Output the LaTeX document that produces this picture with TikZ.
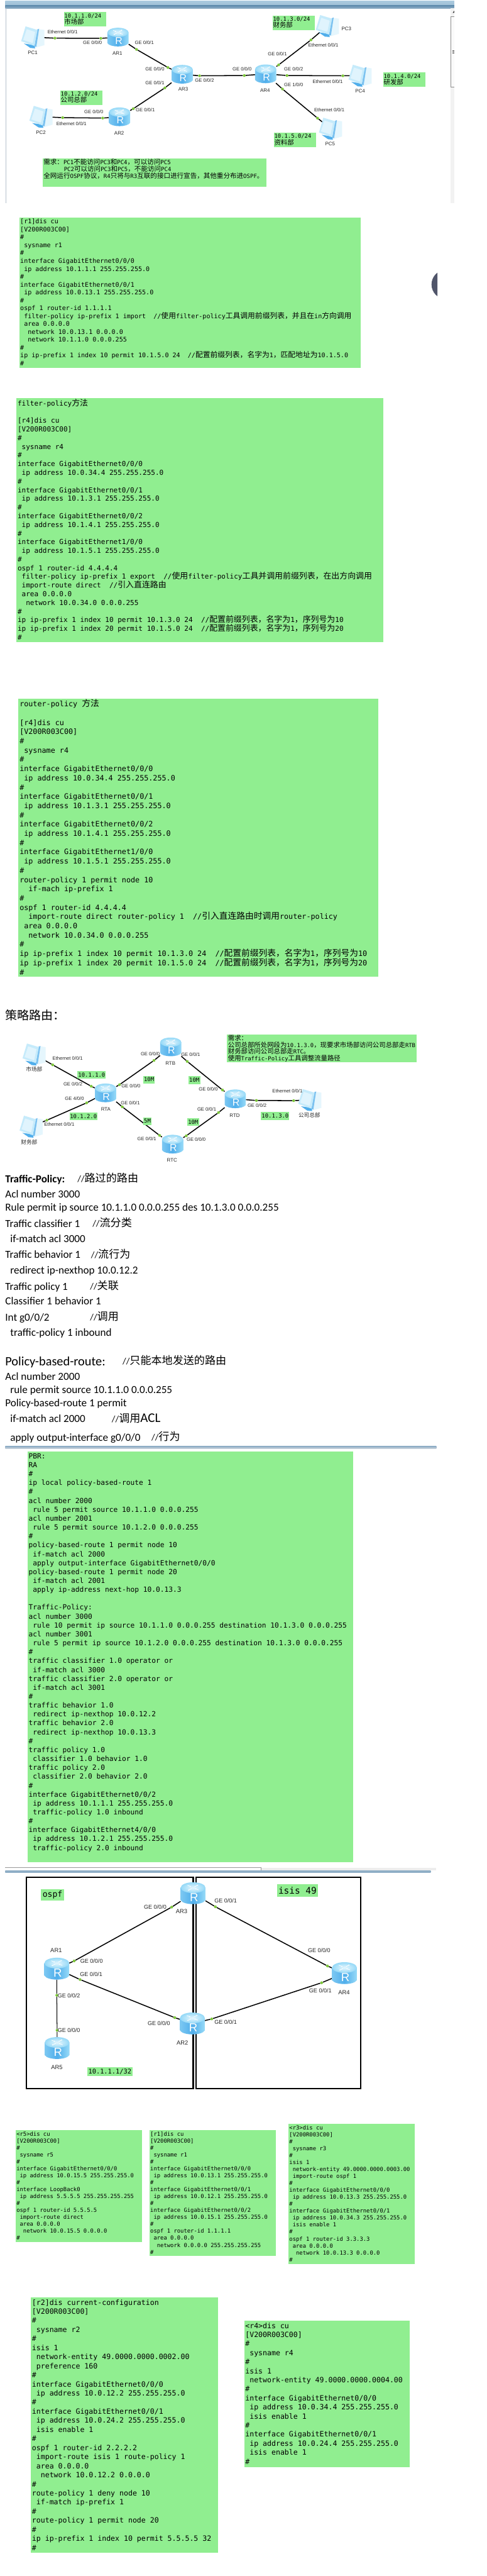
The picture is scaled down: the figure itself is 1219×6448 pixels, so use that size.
\documentclass[tikz,border=0pt]{standalone}
\usepackage{fontspec}
\setmainfont{Carlito}
\setmonofont{DejaVu Sans Mono}
\newfontfamily\cjk[Scale=1.17]{Noto Sans CJK SC}
\newfontfamily\arialish{Liberation Sans}
\usetikzlibrary{arrows.meta,backgrounds}
\definecolor{cfggreen}{HTML}{90EE90}
\definecolor{portgreen}{HTML}{7CC63A}
\definecolor{rleft}{HTML}{7CC8F2}
\definecolor{rmid}{HTML}{50AEEB}
\definecolor{rright}{HTML}{98DBF8}
\definecolor{barlight}{HTML}{A9C9DE}
\definecolor{barlightb}{HTML}{9FC0D6}
\definecolor{bardark}{HTML}{5C8AAB}
\definecolor{barmid}{HTML}{8FAEC6}
\definecolor{barpale}{HTML}{C9D3DC}
\definecolor{edgegrey}{HTML}{B4C0CC}
\definecolor{knob}{HTML}{50556A}
\newcounter{labc}
\newcounter{txtc}
\newcommand{\zh}[1]{{\cjk #1}}
\newcommand{\gbox}[4]{\fill[cfggreen] (#1,#2) rectangle (#3,#4);}
\newcommand{\cfgtext}[6]{\pgfmathsetmacro\ytop{#3+0.36*#4-0.7*#5}%
  \node[cfgtxt,font={\fontsize{#4pt}{#5pt}\ttfamily\selectfont\lineskiplimit-100pt\relax}] (#1) at (#2,\ytop) {\strut #6};}
\newcommand{\glab}[7][14]{\gbox{#3}{#4}{#5}{#6}\pgfmathsetmacro\xmid{(#3+#5)/2}\pgfmathsetmacro\ymid{(#4+#6)/2}%
  \node[inner sep=0pt,font=\fontsize{#1pt}{#1pt}\ttfamily\selectfont] (#2) at (\xmid,\ymid) {#7};}
\newcommand{\plab}[4][12]{\stepcounter{labc}\node[plabel,font=\fontsize{#1pt}{#1pt}\arialish\selectfont] (lab\arabic{labc}) at (#2,#3) {#4};}
\newcommand{\tline}[4][27]{\stepcounter{txtc}\pgfmathsetmacro\ybase{#3+0.3*#1}%
  \node[anchor=base west,inner sep=0pt,font=\fontsize{#1pt}{#1pt}\selectfont] (tx\arabic{txtc}) at (#2,\ybase) {#4};}
\newcommand{\wire}[5][]{\begin{pgfonlayer}{background}\draw[wireline,#1] (#2) -- (#3) -- (#4) -- (#5);\end{pgfonlayer}}
\tikzset{
  cfgtxt/.style={anchor=north west,inner sep=0pt,align=left},
  plabel/.style={inner sep=0pt,text=black!85},
  wireline/.style={line width=2.4pt,black},
  portdot/.style={circle,fill=portgreen,inner sep=0pt,minimum size=7pt},
  devR/.style={inner sep=0pt,minimum width=53pt,minimum height=46pt},
  devRb/.style={inner sep=0pt,minimum width=62pt,minimum height=55pt},
  devP/.style={inner sep=0pt,minimum width=38pt,minimum height=38pt},
  router/.pic={
    \path[left color=rleft,right color=rright,middle color=rmid]
      (-26.5,-12) -- (-26.5,15) .. controls (-20,26) and (20,26) .. (26.5,15) -- (26.5,-12) -- cycle;
    \shade[inner color=white!75!rright,outer color=rright!90!rleft] (0,-12) ellipse [x radius=26.5,y radius=11.5];
    \draw[white,line width=1.2pt,-{Stealth[length=3pt,width=3.5pt]}] (3,-14) -- (11,-18);
    \draw[white,line width=1.2pt,-{Stealth[length=3pt,width=3.5pt]}] (-3,-10) -- (-11,-6);
    \draw[white,line width=1.2pt,-{Stealth[length=3pt,width=3.5pt]}] (-12,-17) -- (-4,-14);
    \draw[white,line width=1.2pt,-{Stealth[length=3pt,width=3.5pt]}] (12,-7) -- (4,-10);
    \node[transform shape,text=white,inner sep=0pt,font=\fontsize{25pt}{25pt}\arialish\selectfont] at (2,9) {R};
  },
  pccomp/.pic={
    \fill[white!75!rright] (15,-20) -- (29,-18) -- (29,20) -- (8,26) -- cycle;
    \fill[rmid!75!white] (11,-19) -- (16,-21) -- (9,24) -- (4,24) -- cycle;
    \fill[rmid] (-22,16) -- (4,20) -- (6,28) -- (-6,27) -- cycle;
    \fill[white!45!rright] (-29,10) -- (-18,-27) -- (12,-18) -- (4,22) -- cycle;
    \fill[white!70!rright] (-24,7) -- (-15,-20) -- (6,-13) -- (0,15) -- cycle;
  }
}
\begin{document}
\begin{tikzpicture}[x=1pt,y=-1pt]
\useasboundingbox (0,0) rectangle (1219,6448);
\begin{pgfonlayer}{background}
  \fill[white] (0,0) rectangle (1219,6448);
\end{pgfonlayer}

%% ---------- window frame at the top ----------
\shade[top color=barlight,bottom color=barlightb] (13,3) rectangle (1138,13);
\shade[top color=bardark,bottom color=barmid] (13,13) rectangle (1138,21);
\fill[black!5] (1128,21) rectangle (1138,508);
\fill[black!2] (1129,42) rectangle (1138,218);
\draw[black!45,line width=0.8pt] (1138,42) -- (1129,42) -- (1129,218) -- (1138,218);
\fill[black!70] (1133,126) rectangle (1138,127.5);
\fill[black!70] (1133,129.5) rectangle (1138,131);
\fill[black!70] (1133,133) rectangle (1138,134.5);
\fill[black!80] (1134,32) -- (1138,27) -- (1138,32) -- cycle;
\draw[edgegrey,line width=3pt] (15,21) -- (15,508);

%% ---------- first topology ----------
\node[devP] (PC1) at (82,93) {};
\node[devR] (AR1) at (295.5,93) {};
\node[devR] (AR3) at (456.5,186) {};
\node[devR] (AR4) at (665.6,185) {};
\node[devR] (AR2) at (299.4,292.5) {};
\node[devP] (PC2) at (102.6,292) {};
\node[devP] (PC3) at (820,64.7) {};
\node[devP] (PC4) at (902,189) {};
\node[devP] (PC5) at (828,321.6) {};
\node[portdot] (a1) at (137.6,95.5) {};
\node[portdot] (a2) at (252.7,96) {};
\node[portdot] (a3) at (342,123.7) {};
\node[portdot] (a4) at (420.7,169) {};
\node[portdot] (a5) at (413,220) {};
\node[portdot] (a6) at (334,272) {};
\node[portdot] (a7) at (500,189.7) {};
\node[portdot] (a8) at (612,189) {};
\node[portdot] (a9) at (698,162.5) {};
\node[portdot] (a10) at (779,100) {};
\node[portdot] (a11) at (719,189) {};
\node[portdot] (a12) at (859,189.7) {};
\node[portdot] (a13) at (707.6,222.8) {};
\node[portdot] (a14) at (795.5,295.8) {};
\node[portdot] (a15) at (257.4,295.5) {};
\node[portdot] (a16) at (157,294.5) {};
\wire{PC1}{a1}{a2}{AR1}
\wire{AR1}{a3}{a4}{AR3}
\wire{AR3}{a5}{a6}{AR2}
\wire{AR3}{a7}{a8}{AR4}
\wire{AR4}{a9}{a10}{PC3}
\wire{AR4}{a11}{a12}{PC4}
\wire{AR4}{a13}{a14}{PC5}
\wire{AR2}{a15}{a16}{PC2}
\foreach \n in {AR1,AR2,AR3,AR4} {\pic at (\n) {router};}
\foreach \n in {PC1,PC2,PC3,PC4,PC5} {\pic at (\n) {pccomp};}
\plab[12.5]{82}{132.6}{PC1}
\plab[12.5]{294}{134}{AR1}
\plab[12.5]{459}{223}{AR3}
\plab[12.5]{664}{226.5}{AR4}
\plab[12.5]{298.6}{334}{AR2}
\plab[12.5]{102.6}{331.6}{PC2}
\plab[12.5]{868}{72}{PC3}
\plab[12.5]{902}{227.5}{PC4}
\plab[12.5]{827}{360}{PC5}
\plab{157}{79.6}{Ethernet 0/0/1}
\plab{231.7}{107}{GE 0/0/0}
\plab{361.6}{107}{GE 0/0/1}
\plab{388}{173.4}{GE 0/0/0}
\plab{388}{208}{GE 0/0/1}
\plab{512.4}{201.6}{GE 0/0/2}
\plab{606.5}{172.4}{GE 0/0/0}
\plab{735.6}{172.4}{GE 0/0/2}
\plab{735.6}{212.6}{GE 1/0/0}
\plab{695}{134.6}{GE 0/0/1}
\plab{810}{113}{Ethernet 0/0/1}
\plab{821}{205}{Ethernet 0/0/1}
\plab{825}{274.6}{Ethernet 0/0/1}
\plab{364}{275.6}{GE 0/0/1}
\plab{235}{280}{GE 0/0/0}
\plab{179}{309}{Ethernet 0/0/1}
\gbox{160}{30}{266}{66}
\cfgtext{g1}{161}{39}{14}{16}{10.1.1.0/24\\\zh{市场部}}
\gbox{683}{39}{788.5}{75.6}
\cfgtext{g2}{684}{47.8}{14}{16}{10.1.3.0/24\\\zh{财务部}}
\gbox{960}{181.7}{1066}{218}
\cfgtext{g3}{961}{190.7}{14}{16}{10.1.4.0/24\\\zh{研发部}}
\gbox{151}{226.5}{256.6}{262.6}
\cfgtext{g4}{152}{234.8}{14}{16}{10.1.2.0/24\\\zh{公司总部}}
\gbox{686}{332.6}{791.6}{369}
\cfgtext{g5}{687}{341}{14}{16}{10.1.5.0/24\\\zh{资料部}}
\gbox{107}{396.6}{668}{468}
\cfgtext{g6}{109}{404.5}{14.2}{17}{\zh{需求：}PC1\zh{不能访问}PC3\zh{和}PC4\zh{，可以访问}PC5\\
\hspace*{51pt}PC2\zh{可以访问}PC3\zh{和}PC5\zh{，不能访问}PC4\\
\zh{全网运行}OSPF\zh{协议，}R4\zh{只将与}R3\zh{互联的接口进行宣告，其他重分布进}OSPF\zh{。}}

%% ---------- dark round button, cut off ----------
\begin{scope}
  \clip (1070,660) rectangle (1096,770);
  \fill[knob] (1118,712) circle [radius=37];
\end{scope}

%% ---------- r1 config ----------
\gbox{49}{544}{903.6}{921}
\cfgtext{cfgA}{50.5}{554.4}{15.85}{19.7}{[r1]dis cu\\
{[}V200R003C00]\\
\#\\
\ sysname r1\\
\#\\
interface GigabitEthernet0/0/0\\
\ ip address 10.1.1.1 255.255.255.0\\
\#\\
interface GigabitEthernet0/0/1\\
\ ip address 10.0.13.1 255.255.255.0\\
\#\\
ospf 1 router-id 1.1.1.1\\
\ filter-policy ip-prefix 1 import\ \ //\zh{使用}filter-policy\zh{工具调用前缀列表，并且在}in\zh{方向调用}\\
\ area 0.0.0.0\\
\ \ network 10.0.13.1 0.0.0.0\\
\ \ network 10.1.1.0 0.0.0.255\\
\#\\
ip ip-prefix 1 index 10 permit 10.1.5.0 24\ \ //\zh{配置前缀列表，名字为}1\zh{，匹配地址为}10.1.5.0\\
\#}

%% ---------- filter-policy ----------
\gbox{41}{996}{961}{1607}
\cfgtext{cfgB}{44}{1007}{17.35}{21.72}{filter-policy\zh{方法}\\
\strut\\
{[}r4]dis cu\\
{[}V200R003C00]\\
\#\\
\ sysname r4\\
\#\\
interface GigabitEthernet0/0/0\\
\ ip address 10.0.34.4 255.255.255.0\\
\#\\
interface GigabitEthernet0/0/1\\
\ ip address 10.1.3.1 255.255.255.0\\
\#\\
interface GigabitEthernet0/0/2\\
\ ip address 10.1.4.1 255.255.255.0\\
\#\\
interface GigabitEthernet1/0/0\\
\ ip address 10.1.5.1 255.255.255.0\\
\#\\
ospf 1 router-id 4.4.4.4\\
\ filter-policy ip-prefix 1 export\ \ //\zh{使用}filter-policy\zh{工具并调用前缀列表，在出方向调用}\\
\ import-route direct\ \ //\zh{引入直连路由}\\
\ area 0.0.0.0\\
\ \ network 10.0.34.0 0.0.0.255\\
\#\\
ip ip-prefix 1 index 10 permit 10.1.3.0 24\ \ //\zh{配置前缀列表，名字为}1\zh{，序列号为}10\\
ip ip-prefix 1 index 20 permit 10.1.5.0 24\ \ //\zh{配置前缀列表，名字为}1\zh{，序列号为}20\\
\#}

%% ---------- router-policy ----------
\gbox{46}{1749}{948}{2445}
\cfgtext{cfgC}{49}{1760}{18.5}{23.14}{router-policy \zh{方法}\\
\strut\\
{[}r4]dis cu\\
{[}V200R003C00]\\
\#\\
\ sysname r4\\
\#\\
interface GigabitEthernet0/0/0\\
\ ip address 10.0.34.4 255.255.255.0\\
\#\\
interface GigabitEthernet0/0/1\\
\ ip address 10.1.3.1 255.255.255.0\\
\#\\
interface GigabitEthernet0/0/2\\
\ ip address 10.1.4.1 255.255.255.0\\
\#\\
interface GigabitEthernet1/0/0\\
\ ip address 10.1.5.1 255.255.255.0\\
\#\\
router-policy 1 permit node 10\\
\ \ if-mach ip-prefix 1\\
\#\\
ospf 1 router-id 4.4.4.4\\
\ \ import-route direct router-policy 1\ \ //\zh{引入直连路由时调用}router-policy\\
\ area 0.0.0.0\\
\ \ network 10.0.34.0 0.0.0.255\\
\#\\
ip ip-prefix 1 index 10 permit 10.1.3.0 24\ \ //\zh{配置前缀列表，名字为}1\zh{，序列号为}10\\
ip ip-prefix 1 index 20 permit 10.1.5.0 24\ \ //\zh{配置前缀列表，名字为}1\zh{，序列号为}20\\
\#}

%% ---------- heading ----------
\node[anchor=base west,inner sep=0pt,font=\fontsize{25.6pt}{30pt}\selectfont] (heading) at (13,2552) {\zh{策略路由：}};

%% ---------- second topology ----------
\node[devP] (PCm) at (85.5,2639) {};
\node[devP] (PCf) at (78,2819.6) {};
\node[devR] (RTA) at (264.4,2735.7) {};
\node[devR] (RTB) at (427.7,2620.6) {};
\node[devR] (RTC) at (432.4,2864) {};
\node[devR] (RTD) at (589.4,2750.6) {};
\node[devP] (PCh) at (776,2753) {};
\node[portdot] (b1) at (132,2665.4) {};
\node[portdot] (b2) at (228.6,2719) {};
\node[portdot] (b3) at (117.4,2804) {};
\node[portdot] (b4) at (217,2760.5) {};
\node[portdot] (b5) at (299.4,2715) {};
\node[portdot] (b6) at (385.7,2654.4) {};
\node[portdot] (b7) at (469,2656.8) {};
\node[portdot] (b8) at (557.5,2728.4) {};
\node[portdot] (b9) at (306.4,2770.5) {};
\node[portdot] (b10) at (399.7,2842) {};
\node[portdot] (b11) at (466.6,2843) {};
\node[portdot] (b12) at (547.4,2784.8) {};
\node[portdot] (b13) at (642.3,2754.6) {};
\node[portdot] (b14) at (735.6,2755) {};
\wire{PCm}{b1}{b2}{RTA}
\wire{PCf}{b3}{b4}{RTA}
\wire{RTA}{b5}{b6}{RTB}
\wire{RTB}{b7}{b8}{RTD}
\wire{RTA}{b9}{b10}{RTC}
\wire{RTC}{b11}{b12}{RTD}
\wire{RTD}{b13}{b14}{PCh}
\foreach \n in {RTA,RTB,RTC,RTD} {\pic at (\n) {router};}
\foreach \n in {PCm,PCf,PCh} {\pic at (\n) {pccomp};}
\plab[11.6]{85.5}{2677}{\zh{市场部}}
\plab[11.6]{73}{2859}{\zh{财务部}}
\plab[11.6]{775}{2791}{\zh{公司总部}}
\plab[12.5]{265}{2776}{RTA}
\plab[12.5]{427}{2661.4}{RTB}
\plab[12.5]{431}{2904.5}{RTC}
\plab[12.5]{588}{2792}{RTD}
\plab{169.5}{2649.5}{Ethernet 0/0/1}
\plab{182.7}{2713.5}{GE 0/0/2}
\plab{186.6}{2749}{GE 4/0/0}
\plab{148.5}{2815}{Ethernet 0/0/1}
\plab{376.4}{2637.5}{GE 0/0/0}
\plab{477.5}{2639}{GE 0/0/1}
\plab{328}{2718.8}{GE 0/0/0}
\plab{326.6}{2761}{GE 0/0/1}
\plab{521.8}{2726.7}{GE 0/0/0}
\plab{518}{2777}{GE 0/0/1}
\plab{367.8}{2849.8}{GE 0/0/1}
\plab{491.4}{2851.7}{GE 0/0/0}
\plab{720}{2730.7}{Ethernet 0/0/1}
\plab{644}{2766.5}{GE 0/0/2}
\glab{n1}{194.4}{2681.3}{265}{2700}{10.1.1.0}
\glab{n2}{174}{2784.8}{244}{2804}{10.1.2.0}
\glab{n3}{654}{2783.4}{724.7}{2803}{10.1.3.0}
\glab{n4}{358.5}{2693}{388}{2712}{10M}
\glab{n5}{472}{2694}{501.6}{2713.5}{10M}
\glab{n6}{358.5}{2797}{380}{2816}{5M}
\glab{n7}{469}{2799}{498.5}{2818}{10M}
\gbox{569}{2589.5}{1043}{2658.8}
\cfgtext{g7}{571}{2597}{14}{17.1}{\zh{需求：}\\
\zh{公司总部所处网段为}10.1.3.0\zh{，现要求市场部访问公司总部走}RTB\\
\zh{财务部访问公司总部走}RTC\zh{。}\\
\zh{使用}Traffic-Policy\zh{工具调整流量路径}}

%% ---------- traffic-policy notes ----------
\tline{13}{2952.5}{\bfseries Traffic-Policy:}
\tline[23]{194}{2952.5}{//\zh{路过的路由}}
\tline{13}{2990.7}{Acl number 3000}
\tline{13}{3022.8}{Rule permit ip source 10.1.1.0 0.0.0.255 des 10.1.3.0 0.0.0.255}
\tline{13}{3063.9}{Traffic classifier 1}
\tline[23]{231.7}{3063.9}{//\zh{流分类}}
\tline{25.7}{3101.4}{if-match acl 3000}
\tline{13}{3141.7}{Traffic behavior 1}
\tline[23]{228}{3141.7}{//\zh{流行为}}
\tline{25.7}{3180}{redirect ip-nexthop 10.0.12.2}
\tline{13}{3221}{Traffic policy 1}
\tline[23]{225.5}{3221}{//\zh{关联}}
\tline{13}{3257.7}{Classifier 1 behavior 1}
\tline{13}{3298.8}{Int g0/0/2}
\tline[23]{225.5}{3298.8}{//\zh{调用}}
\tline{25.7}{3336}{traffic-policy 1 inbound}
\tline[32]{13}{3408.4}{Policy-based-route:}
\tline[23]{307}{3408.4}{//\zh{只能本地发送的路由}}
\tline{13}{3447}{Acl number 2000}
\tline{25.7}{3479}{rule permit source 10.1.1.0 0.0.0.255}
\tline{13}{3513}{Policy-based-route 1 permit}
\tline{25.7}{3552.5}{if-match acl 2000}
\tline[23]{280}{3552.5}{//\zh{调用}\fontsize{33pt}{33pt}\selectfont ACL}
\tline{25.7}{3599}{apply output-interface g0/0/0}
\tline[23]{379.5}{3599}{//\zh{行为}}
\shade[top color=barmid,bottom color=barpale] (13,3620) rectangle (1093,3625.7);

%% ---------- PBR config ----------
\gbox{69}{3632.8}{884}{4661}
\cfgtext{cfgD}{71.5}{3644.6}{17.65}{22.28}{PBR:\\
RA\\
\#\\
ip local policy-based-route 1\\
\#\\
acl number 2000\\
\ rule 5 permit source 10.1.1.0 0.0.0.255\\
acl number 2001\\
\ rule 5 permit source 10.1.2.0 0.0.0.255\\
\#\\
policy-based-route 1 permit node 10\\
\ if-match acl 2000\\
\ apply output-interface GigabitEthernet0/0/0\\
policy-based-route 1 permit node 20\\
\ if-match acl 2001\\
\ apply ip-address next-hop 10.0.13.3\\
\strut\\
Traffic-Policy:\\
acl number 3000\\
\ rule 10 permit ip source 10.1.1.0 0.0.0.255 destination 10.1.3.0 0.0.0.255\\
acl number 3001\\
\ rule 5 permit ip source 10.1.2.0 0.0.0.255 destination 10.1.3.0 0.0.0.255\\
\#\\
traffic classifier 1.0 operator or\\
\ if-match acl 3000\\
traffic classifier 2.0 operator or\\
\ if-match acl 3001\\
\#\\
traffic behavior 1.0\\
\ redirect ip-nexthop 10.0.12.2\\
traffic behavior 2.0\\
\ redirect ip-nexthop 10.0.13.3\\
\#\\
traffic policy 1.0\\
\ classifier 1.0 behavior 1.0\\
traffic policy 2.0\\
\ classifier 2.0 behavior 2.0\\
\#\\
interface GigabitEthernet0/0/2\\
\ ip address 10.1.1.1 255.255.255.0\\
\ traffic-policy 1.0 inbound\\
\#\\
interface GigabitEthernet4/0/0\\
\ ip address 10.1.2.1 255.255.255.0\\
\ traffic-policy 2.0 inbound}

%% ---------- scroll bar strip ----------
\fill[black!7] (653,4675) rectangle (1093,4682);
\fill[black!1] (13,4675) rectangle (653,4682);
\draw[black!40,line width=0.9pt] (13,4675) -- (653,4675) -- (653,4682);
\shade[top color=barmid,bottom color=barmid] (13,4682) rectangle (1079,4687);

%% ---------- third topology ----------
\draw[black,line width=4pt] (66,4698.7) rectangle (483.7,5228);
\draw[black,line width=4pt] (491.5,4698.7) rectangle (903.6,5228);
\node[devRb] (tAR3) at (483.7,4739) {};
\node[devRb] (tAR1) at (142.3,4927.8) {};
\node[devRb] (tAR4) at (863,4939) {};
\node[devRb] (tAR2) at (482,5065) {};
\node[devRb] (tAR5) at (143,5126.5) {};
\node[portdot] (c1) at (430,4773.7) {};
\node[portdot] (c2) at (185.8,4908.4) {};
\node[portdot] (c3) at (539.6,4772.8) {};
\node[portdot] (c4) at (820.4,4921) {};
\node[portdot] (c5) at (200.6,4955) {};
\node[portdot] (c6) at (437.8,5050.3) {};
\node[portdot] (c7) at (530.3,5053.6) {};
\node[portdot] (c8) at (805.6,4963) {};
\node[portdot] (c9) at (142.3,4994.3) {};
\node[portdot] (c10) at (143,5082) {};
\wire{tAR3}{c1}{c2}{tAR1}
\wire{tAR3}{c3}{c4}{tAR4}
\wire{tAR1}{c5}{c6}{tAR2}
\wire{tAR2}{c7}{c8}{tAR4}
\wire[line width=1.6pt]{tAR1}{c9}{c10}{tAR5}
\foreach \n in {tAR1,tAR2,tAR3,tAR4,tAR5} {\pic[scale=1.17] at (\n) {router};}
\plab[14.8]{455}{4785}{AR3}
\plab[14.8]{140.7}{4882}{AR1}
\plab[14.8]{862}{4987.5}{AR4}
\plab[14.8]{457}{5113}{AR2}
\plab[14.8]{142.3}{5175}{AR5}
\plab[14.2]{388.8}{4774}{GE 0/0/0}
\plab[14.2]{565.3}{4757.2}{GE 0/0/1}
\plab[14.2]{229.4}{4909.2}{GE 0/0/0}
\plab[14.2]{228.6}{4942}{GE 0/0/1}
\plab[14.2]{172.6}{4996}{GE 0/0/2}
\plab[14.2]{172.6}{5082.3}{GE 0/0/0}
\plab[14.2]{398}{5064}{GE 0/0/0}
\plab[14.2]{565.3}{5062}{GE 0/0/1}
\plab[14.2]{799.4}{4882.3}{GE 0/0/0}
\plab[14.2]{802.5}{4983}{GE 0/0/1}
\glab[20.6]{m1}{102}{4729}{161}{4758}{ospf}
\glab[22.7]{m2}{693.6}{4717}{797}{4748.4}{isis 49}
\glab[16.3]{m3}{218.5}{5174.5}{332}{5197}{10.1.1.1/32}

%% ---------- r5 / r1 / r3 ----------
\gbox{39}{5332.5}{356}{5612.4}
\cfgtext{cfgE}{41.2}{5341}{13.95}{17.4}{<r5>dis cu\\
{[}V200R003C00]\\
\#\\
\ sysname r5\\
\#\\
interface GigabitEthernet0/0/0\\
\ ip address 10.0.15.5 255.255.255.0\\
\#\\
interface LoopBack0\\
\ ip address 5.5.5.5 255.255.255.255\\
\#\\
ospf 1 router-id 5.5.5.5\\
\ import-route direct\\
\ area 0.0.0.0\\
\ \ network 10.0.15.5 0.0.0.0\\
\#}
\gbox{374.8}{5332.5}{691.3}{5647}
\cfgtext{cfgF}{376.4}{5341}{13.95}{17.4}{[r1]dis cu\\
{[}V200R003C00]\\
\#\\
\ sysname r1\\
\#\\
interface GigabitEthernet0/0/0\\
\ ip address 10.0.13.1 255.255.255.0\\
\#\\
interface GigabitEthernet0/0/1\\
\ ip address 10.0.12.1 255.255.255.0\\
\#\\
interface GigabitEthernet0/0/2\\
\ ip address 10.0.15.1 255.255.255.0\\
\#\\
ospf 1 router-id 1.1.1.1\\
\ area 0.0.0.0\\
\ \ network 0.0.0.0 255.255.255.255\\
\#}
\gbox{723}{5316.8}{1039.7}{5666.6}
\cfgtext{cfgG}{724.7}{5325.3}{13.95}{17.4}{<r3>dis cu\\
{[}V200R003C00]\\
\#\\
\ sysname r3\\
\#\\
isis 1\\
\ network-entity 49.0000.0000.0003.00\\
\ import-route ospf 1\\
\#\\
interface GigabitEthernet0/0/0\\
\ ip address 10.0.13.3 255.255.255.0\\
\#\\
interface GigabitEthernet0/0/1\\
\ ip address 10.0.34.3 255.255.255.0\\
\ isis enable 1\\
\#\\
ospf 1 router-id 3.3.3.3\\
\ area 0.0.0.0\\
\ \ network 10.0.13.3 0.0.0.0\\
\#}

%% ---------- r2 / r4 ----------
\gbox{77.8}{5751.2}{546.7}{6390}
\cfgtext{cfgH}{80}{5762.7}{18.2}{22.75}{[r2]dis current-configuration\\
{[}V200R003C00]\\
\#\\
\ sysname r2\\
\#\\
isis 1\\
\ network-entity 49.0000.0000.0002.00\\
\ preference 160\\
\#\\
interface GigabitEthernet0/0/0\\
\ ip address 10.0.12.2 255.255.255.0\\
\#\\
interface GigabitEthernet0/0/1\\
\ ip address 10.0.24.2 255.255.255.0\\
\ isis enable 1\\
\#\\
ospf 1 router-id 2.2.2.2\\
\ import-route isis 1 route-policy 1\\
\ area 0.0.0.0\\
\ \ network 10.0.12.2 0.0.0.0\\
\#\\
route-policy 1 deny node 10\\
\ if-match ip-prefix 1\\
\#\\
route-policy 1 permit node 20\\
\#\\
ip ip-prefix 1 index 10 permit 5.5.5.5 32\\
\#}
\gbox{612}{5809.4}{1025.7}{6175.6}
\cfgtext{cfgJ}{614.3}{5821.2}{18.2}{22.67}{<r4>dis cu\\
{[}V200R003C00]\\
\#\\
\ sysname r4\\
\#\\
isis 1\\
\ network-entity 49.0000.0000.0004.00\\
\#\\
interface GigabitEthernet0/0/0\\
\ ip address 10.0.34.4 255.255.255.0\\
\ isis enable 1\\
\#\\
interface GigabitEthernet0/0/1\\
\ ip address 10.0.24.4 255.255.255.0\\
\ isis enable 1\\
\#}
\end{tikzpicture}
\end{document}
